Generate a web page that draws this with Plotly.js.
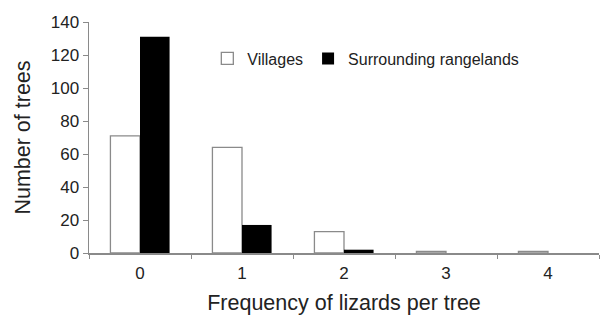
<!DOCTYPE html>
<html><head><meta charset="utf-8">
<script src="https://cdn.plot.ly/plotly-3.0.1.min.js"></script>
<style>html,body{margin:0;padding:0;background:#fff}</style>
</head><body><div id="chart" style="width:601px;height:315px"></div>
<script>
var categories = ["0", "1", "2", "3", "4"];
var villages = [71, 64, 13, 1, 1];
var rangelands = [131, 17, 2, 0, 0];
var yTicks = [0, 20, 40, 60, 80, 100, 120, 140];

var traces = [
  {type: "bar", name: "Villages", x: categories, y: villages,
   marker: {color: "#ffffff", line: {color: "#8a8a8a", width: 1.3}}},
  {type: "bar", name: "Surrounding rangelands", x: categories, y: rangelands,
   marker: {color: "#000000", line: {color: "#000000", width: 0}}}
];
var layout = {
  width: 601, height: 315,
  margin: {l: 89, r: 2, t: 22, b: 62},
  paper_bgcolor: "#fff", plot_bgcolor: "#fff",
  font: {family: "Liberation Sans, Arial, sans-serif", color: "#222", size: 17},
  barmode: "group", bargap: 0.42, bargroupgap: 0,
  showlegend: true,
  legend: {orientation: "h", x: 0.232, y: 0.842, xanchor: "left", yanchor: "middle",
           font: {size: 16, color: "#222"}, bgcolor: "rgba(0,0,0,0)", traceorder: "normal"},
  xaxis: {type: "category", showline: true, linecolor: "#8a8a8a", linewidth: 1.5,
          ticks: "outside", tickson: "boundaries", ticklen: 4, tickcolor: "#8a8a8a",
          ticklabelstandoff: 4,
          showgrid: false, zeroline: false,
          title: {text: "Frequency of lizards per tree", font: {size: 21.5, color: "#222"}, standoff: 13}},
  yaxis: {range: [0, 140], tickvals: yTicks, showline: true, linecolor: "#8a8a8a", linewidth: 1.5,
          ticks: "outside", ticklen: 5, tickcolor: "#8a8a8a", showgrid: false, zeroline: false,
          title: {text: "Number of trees", font: {size: 21.5, color: "#222"}, standoff: 14}}
};
Plotly.newPlot("chart", traces, layout, {displayModeBar: false, staticPlot: true});
</script></body></html>
